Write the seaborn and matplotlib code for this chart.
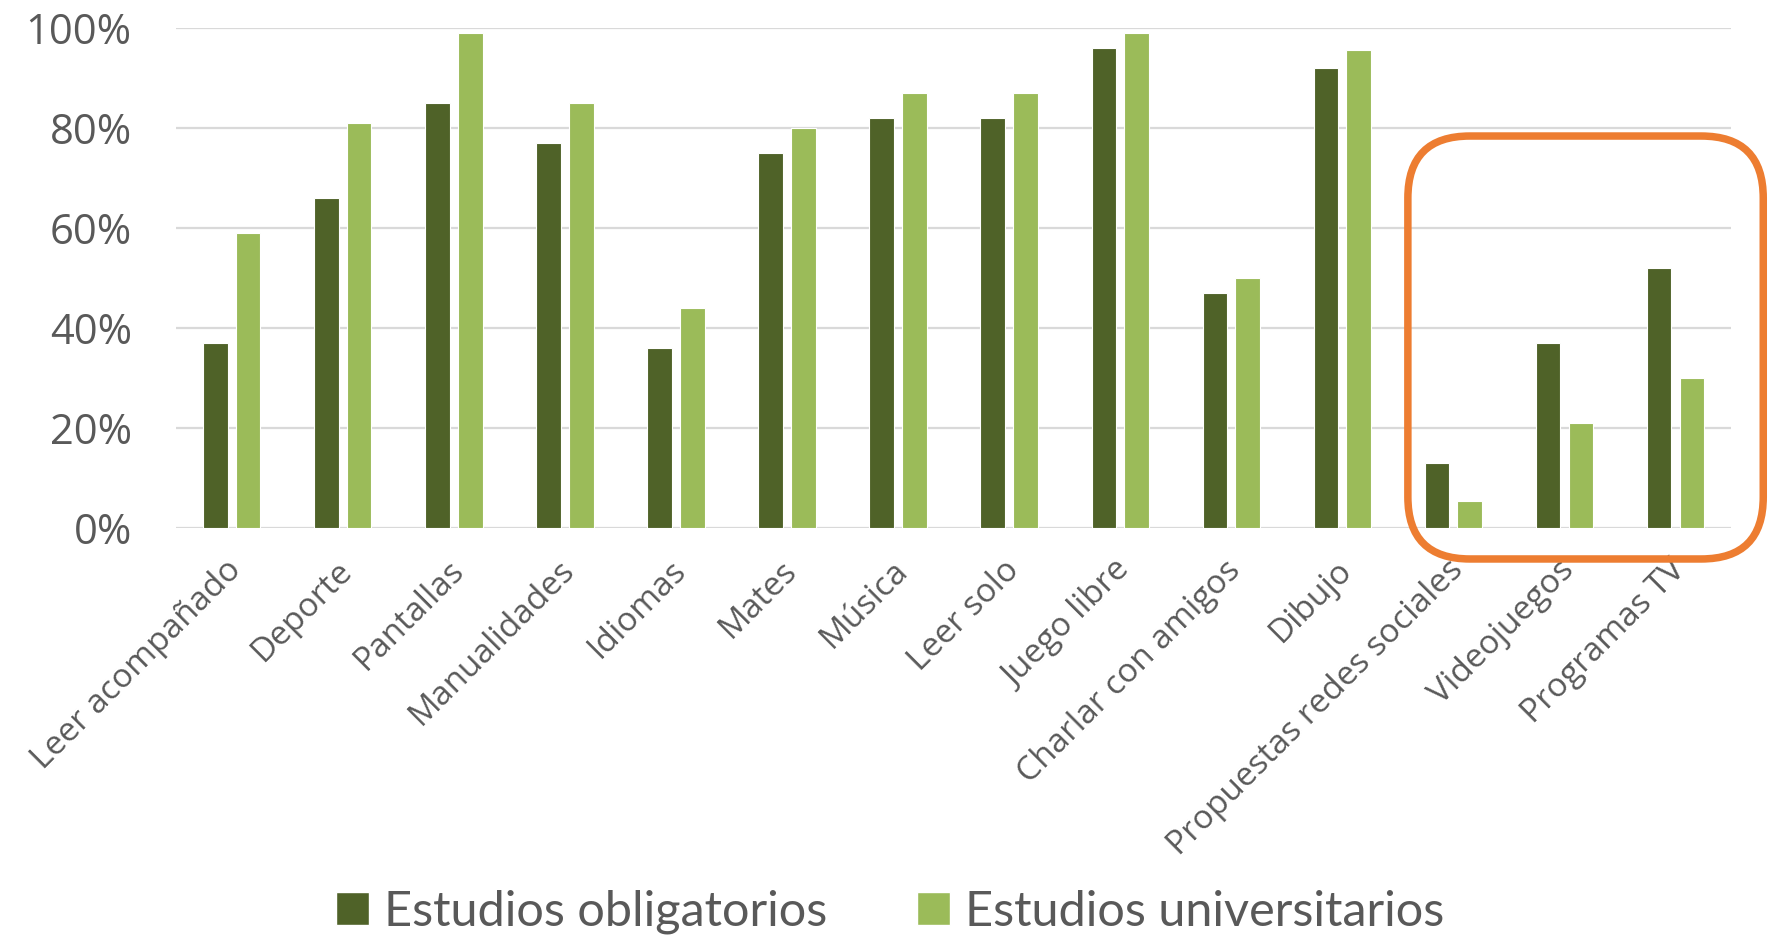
import matplotlib
matplotlib.use("Agg")
import matplotlib.pyplot as plt
import matplotlib.transforms as mtransforms
from matplotlib.patches import FancyBboxPatch, Patch
import seaborn as sns
import pandas as pd

# Data (share of respondents)
categories = ["Leer acompañado", "Deporte", "Pantallas", "Manualidades", "Idiomas",
              "Mates", "Música", "Leer solo", "Juego libre", "Charlar con amigos",
              "Dibujo", "Propuestas redes sociales", "Videojuegos", "Programas TV"]
obligatorios = [0.37, 0.66, 0.85, 0.77, 0.36, 0.75, 0.82, 0.82, 0.96, 0.47, 0.92, 0.13, 0.37, 0.52]
universitarios = [0.59, 0.81, 0.99, 0.85, 0.44, 0.80, 0.87, 0.87, 0.99, 0.50, 0.956, 0.053, 0.21, 0.30]
series = ["Estudios obligatorios", "Estudios universitarios"]
highlighted = ["Propuestas redes sociales", "Videojuegos", "Programas TV"]

dark_green = "#4F6228"
light_green = "#9BBB59"
orange = "#ED7D31"
text_col = "#595959"

df = pd.DataFrame({
    "Actividad": categories * 2,
    "Valor": obligatorios + universitarios,
    "Serie": [series[0]] * len(categories) + [series[1]] * len(categories),
})

sns.set_style("white")
plt.rcParams["font.family"] = ["Open Sans", "DejaVu Sans"]

fig = plt.figure(figsize=(17.8, 9.44), dpi=100)
ax = fig.add_axes([0.099, 0.4407, 0.8735, 0.5296])

sns.barplot(data=df, x="Actividad", y="Valor", hue="Serie", order=categories,
            hue_order=series, palette=[dark_green, light_green], saturation=1,
            width=0.59, gap=0.25, edgecolor="white", linewidth=0.8, legend=False,
            ax=ax, zorder=3)

ax.set_xlim(-0.5, len(categories) - 0.5)
ax.set_ylim(0, 1.0)
ax.set_yticks([0, 0.2, 0.4, 0.6, 0.8, 1.0])
ax.set_yticklabels(["0%", "20%", "40%", "60%", "80%", "100%"])
ax.yaxis.grid(True, color="#D9D9D9", linewidth=1.6, zorder=0)
ax.set_axisbelow(True)
for s in ax.spines.values():
    s.set_visible(False)
ax.set_xlabel("")
ax.set_ylabel("")
ax.tick_params(axis="y", length=0, pad=32, labelsize=30, labelcolor=text_col)
ax.tick_params(axis="x", length=0, pad=27, labelsize=24, labelcolor=text_col)
ax.set_xticks(range(len(categories)))
ax.set_xticklabels(categories, rotation=45, ha="right", va="center", rotation_mode="anchor")
offset = mtransforms.ScaledTranslation(5 / 100, 0, fig.dpi_scale_trans)
for lbl in ax.get_xticklabels():
    lbl.set_transform(lbl.get_transform() + offset)

# Orange rounded box around the highlighted categories (drawn in pixel space)
i0 = categories.index(highlighted[0])
i1 = categories.index(highlighted[-1])
(x0, y0) = ax.transData.transform((i0 - 0.41, -0.062))
(x1, y1) = ax.transData.transform((i1 + 0.79, 0.784))
box = FancyBboxPatch((x0, y0), x1 - x0, y1 - y0,
                     boxstyle="round,pad=0,rounding_size=62",
                     transform=mtransforms.IdentityTransform(),
                     facecolor="none", edgecolor=orange, linewidth=5.4, zorder=5)
fig.add_artist(box)

handles = [Patch(facecolor=dark_green, label=series[0]),
           Patch(facecolor=light_green, label=series[1])]
fig.legend(handles=handles, loc="lower center", bbox_to_anchor=(0.5, -0.036), ncol=2,
           frameon=False, labelcolor=text_col, handlelength=0.68,
           handleheight=0.68, handletextpad=0.3, columnspacing=1.85,
           prop={"family": ["Lato", "DejaVu Sans"], "size": 35})

fig.savefig("out.png", dpi=100)
